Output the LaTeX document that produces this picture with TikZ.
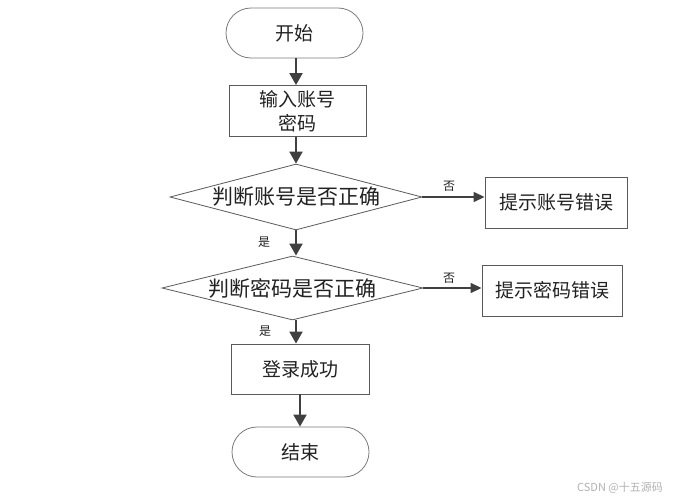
\documentclass[tikz,border=0pt]{standalone}
\usepackage{fontspec}
\setmainfont{Noto Sans CJK SC}
\usetikzlibrary{shapes.geometric,arrows.meta}
\definecolor{linec}{HTML}{5A5A5A}
\definecolor{arrc}{HTML}{404040}
\definecolor{txtc}{HTML}{222222}
\tikzset{
  term/.style={draw=linec!80,line width=0.8pt,rounded corners=25pt,minimum width=137pt,minimum height=50pt,inner sep=0pt,text=txtc,font=\fontsize{19}{22}\selectfont},
  procbox/.style={draw=linec,line width=0.9pt,minimum width=137pt,minimum height=51pt,inner sep=0pt,align=center,text=txtc,font=\fontsize{19}{24}\selectfont},
  decis/.style={draw=linec,line width=0.8pt,diamond,inner sep=0pt,text=txtc,font=\fontsize{21}{24}\selectfont},
  arr/.style={draw=arrc,line width=2pt,-{Triangle[length=12pt,width=13pt]}},
  harr/.style={draw=arrc,line width=1.4pt,-{Triangle[length=11pt,width=10pt]}},
  lab/.style={font=\fontsize{12}{14}\selectfont,inner sep=0pt,text=txtc}
}
\begin{document}
\begin{tikzpicture}[x=1pt,y=-1pt]
\useasboundingbox[fill=white] (0,0) rectangle (677,503);
\node[term] (start) at (294.5,33) {开始};
\node[procbox] (input) at (297.5,111) {输入账号\\密码};
\node[decis,aspect=3.8,minimum width=252pt,minimum height=66pt] (d1) at (296,197) {判断账号是否正确};
\node[procbox,minimum width=142pt] (e1) at (556,202.5) {提示账号错误};
\node[decis,aspect=4.08,minimum width=261pt,minimum height=64pt] (d2) at (292.5,288) {判断密码是否正确};
\node[procbox,minimum width=140pt] (e2) at (552,290.5) {提示密码错误};
\node[procbox,minimum width=138pt,minimum height=50pt] (ok) at (300,369) {登录成功};
\node[term] (end) at (300.5,452) {结束};
\draw[arr] (start.south -| 296,0) -- (input.north -| 296,0);
\draw[arr] (input.south -| 296,0) -- (d1.north);
\draw[arr] (d1.south) -- (d2.north -| d1.south);
\draw[arr] (d2.south -| 296,0) -- (ok.north -| 296,0);
\draw[arr] (ok.south -| 300,0) -- (end.north -| 300,0);
\draw[harr] (d1.east) -- (e1.west |- d1.east);
\draw[harr] (d2.east) -- (e2.west |- d2.east);
\node[lab] (y1) at (264,242) {是};
\node[lab] (y2) at (265,331) {是};
\node[lab] (n1) at (449,186) {否};
\node[lab] (n2) at (449,278) {否};
\node[font=\fontsize{11}{13}\selectfont,text=gray!60,inner sep=0pt] (wm) at (620,488) {CSDN @十五源码};
\end{tikzpicture}
\end{document}
